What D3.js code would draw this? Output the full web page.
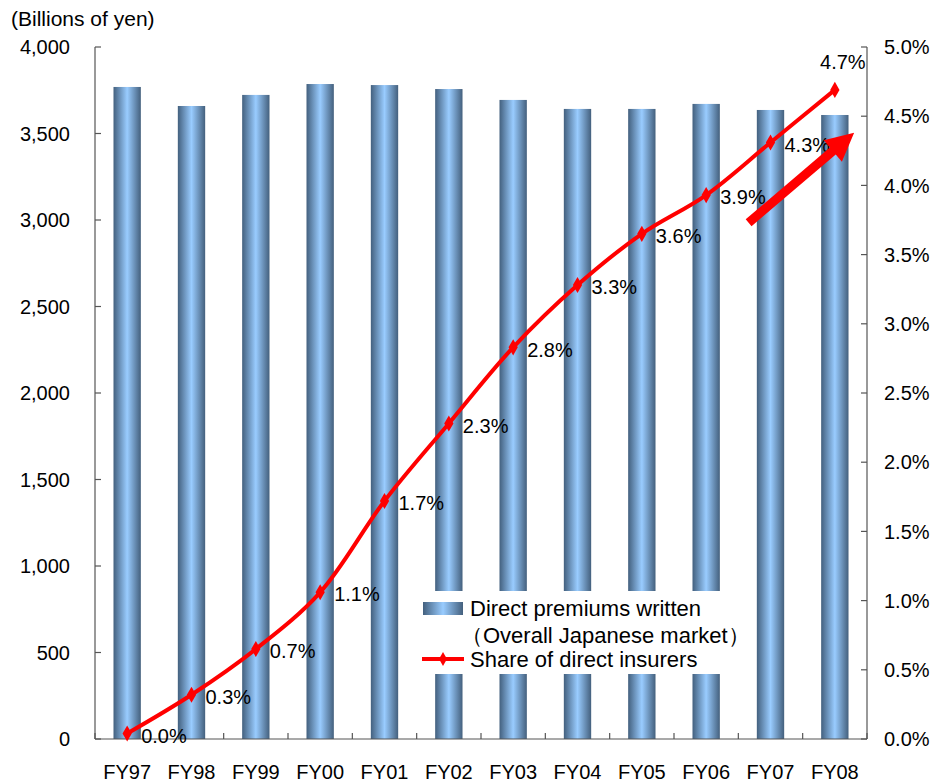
<!DOCTYPE html>
<html>
<head>
<meta charset="utf-8">
<script src="https://cdn.jsdelivr.net/npm/d3@7/dist/d3.min.js"></script>
<style>
  html, body { margin: 0; padding: 0; background: #fff; }
  svg { display: block; font-family: Arial, "Liberation Sans", sans-serif; }
</style>
</head>
<body>
<svg id="chart" width="933" height="783"></svg>
<script>
// Fiscal years on the category axis
const years = ["FY97","FY98","FY99","FY00","FY01","FY02","FY03","FY04","FY05","FY06","FY07","FY08"];
// Direct premiums written, overall Japanese market (billions of yen)
const premiums = [3769, 3659, 3723, 3786, 3780, 3757, 3694, 3642, 3642, 3671, 3636, 3607];
// Share of direct insurers (%)
const share = [0.04, 0.32, 0.65, 1.06, 1.72, 2.28, 2.83, 3.28, 3.65, 3.93, 4.31, 4.69];
// Axis ticks
const leftTicks = [0, 500, 1000, 1500, 2000, 2500, 3000, 3500, 4000];
const rightTicks = [0, 0.5, 1, 1.5, 2, 2.5, 3, 3.5, 4, 4.5, 5];
// Trend arrow in data units: [category index offset, share %]
const arrowFrom = [10 - 0.34, 3.73];
const arrowTo = [11 + 0.3, 4.38];

const svg = d3.select("#chart");
const margin = { left: 95, right: 66, top: 47, bottom: 44 };
const W = 933, H = 783;
const x0 = margin.left, x1 = W - margin.right;
const y0 = H - margin.bottom, y1 = margin.top;

const x = d3.scaleBand().domain(years).range([x0, x1]).paddingInner(0.575).paddingOuter(0.2875);
const yL = d3.scaleLinear().domain([0, 4000]).range([y0, y1]);
const yR = d3.scaleLinear().domain([0, 5]).range([y0, y1]);
const step = x.step();
const cx = i => x(years[i]) + x.bandwidth() / 2;

// Bar gradient: dark edges, light blue centre
const defs = svg.append("defs");
const grad = defs.append("linearGradient").attr("id", "barGrad").attr("x1", "0%").attr("x2", "100%").attr("y1", "0%").attr("y2", "0%");
grad.append("stop").attr("offset", "0%").attr("stop-color", "#43607e");
grad.append("stop").attr("offset", "50%").attr("stop-color", "#99ccff");
grad.append("stop").attr("offset", "100%").attr("stop-color", "#44607d");

// Bars
svg.append("g").selectAll("rect").data(premiums).join("rect")
  .attr("x", (d, i) => x(years[i]))
  .attr("y", d => yL(d))
  .attr("width", x.bandwidth())
  .attr("height", d => yL(0) - yL(d))
  .attr("fill", "url(#barGrad)");

const axisColor = "#555";
const fontSize = 20;

// Left axis
const left = svg.append("g");
left.append("line").attr("x1", x0).attr("x2", x0).attr("y1", yL(0)).attr("y2", yL(4000)).attr("stroke", axisColor).attr("stroke-width", 1.2);
left.selectAll("line.t").data(leftTicks).join("line").attr("class", "t")
  .attr("x1", x0).attr("x2", x0 + 6).attr("y1", d => yL(d)).attr("y2", d => yL(d))
  .attr("stroke", axisColor).attr("stroke-width", 1.2);
left.selectAll("text").data(leftTicks).join("text")
  .attr("x", 70).attr("y", d => yL(d)).attr("dy", "0.36em")
  .attr("text-anchor", "end").attr("font-size", fontSize).attr("fill", "#000")
  .text(d => d3.format(",")(d));

// Right axis
const right = svg.append("g");
right.append("line").attr("x1", x1).attr("x2", x1).attr("y1", yR(0)).attr("y2", yR(5)).attr("stroke", axisColor).attr("stroke-width", 1.2);
right.selectAll("line.t").data(rightTicks).join("line").attr("class", "t")
  .attr("x1", x1 - 6).attr("x2", x1).attr("y1", d => yR(d)).attr("y2", d => yR(d))
  .attr("stroke", axisColor).attr("stroke-width", 1.2);
right.selectAll("text").data(rightTicks).join("text")
  .attr("x", 884).attr("y", d => yR(d)).attr("dy", "0.36em")
  .attr("text-anchor", "start").attr("font-size", fontSize).attr("fill", "#000")
  .text(d => d.toFixed(1) + "%");

// Bottom axis
const bottom = svg.append("g");
bottom.append("line").attr("x1", x0).attr("x2", x1).attr("y1", y0).attr("y2", y0).attr("stroke", axisColor).attr("stroke-width", 1.2);
bottom.selectAll("line.t").data(d3.range(years.length + 1)).join("line").attr("class", "t")
  .attr("x1", i => x0 + i * step).attr("x2", i => x0 + i * step)
  .attr("y1", y0).attr("y2", y0 - 6)
  .attr("stroke", axisColor).attr("stroke-width", 1.2);
bottom.selectAll("text").data(years).join("text")
  .attr("x", (d, i) => cx(i)).attr("y", 779)
  .attr("text-anchor", "middle").attr("font-size", fontSize).attr("fill", "#000")
  .text(d => d);

// Unit label
svg.append("text").attr("x", 11).attr("y", 26).attr("font-size", 21).attr("fill", "#000").text("(Billions of yen)");

// Legend box (white background over bars)
const legendFont = 22;
const lg = svg.append("g");
lg.append("rect").attr("x", 414).attr("y", 591).attr("width", 322).attr("height", 83).attr("fill", "#fff");
lg.append("rect").attr("x", 423).attr("y", 602).attr("width", 40).attr("height", 13).attr("fill", "url(#barGrad)");
lg.append("text").attr("x", 470).attr("y", 616).attr("font-size", legendFont).text("Direct premiums written");
lg.append("text").attr("x", 461).attr("y", 643).attr("font-size", legendFont).text("（Overall Japanese market）");
lg.append("line").attr("x1", 422).attr("x2", 464).attr("y1", 659).attr("y2", 659).attr("stroke", "#ff0000").attr("stroke-width", 4);
lg.append("path").attr("d", d3.symbol(d3.symbolDiamond, 55)()).attr("transform", "translate(443,659)").attr("fill", "#ff0000");
lg.append("text").attr("x", 470).attr("y", 667).attr("font-size", legendFont).text("Share of direct insurers");

// Share line
const line = d3.line().x((d, i) => cx(i)).y(d => yR(d)).curve(d3.curveCatmullRom.alpha(0.5));
svg.append("path").datum(share).attr("d", line)
  .attr("fill", "none").attr("stroke", "#ff0000").attr("stroke-width", 4);
svg.append("g").selectAll("path").data(share).join("path")
  .attr("d", d3.symbol(d3.symbolDiamond, 75)())
  .attr("transform", (d, i) => `translate(${cx(i)},${yR(d)})`)
  .attr("fill", "#ff0000");

// Value labels
const last = share.length - 1;
svg.append("g").selectAll("text").data(share).join("text")
  .attr("x", (d, i) => i === last ? cx(i) + 8 : cx(i) + 14)
  .attr("y", (d, i) => i === last ? yR(d) - 28 : yR(d) + 2)
  .attr("dy", "0.36em")
  .attr("text-anchor", (d, i) => i === last ? "middle" : "start")
  .attr("font-size", fontSize).attr("fill", "#000")
  .text(d => d.toFixed(1) + "%");

// Trend arrow
const ax = v => x0 + (v + 0.5) * step;
const sx = ax(arrowFrom[0]), sy = yR(arrowFrom[1]);
const ex = ax(arrowTo[0]), ey = yR(arrowTo[1]);
const ang = Math.atan2(ey - sy, ex - sx);
const headLen = 28, headHalf = 14, shaftHalf = 4.5;
const len = Math.hypot(ex - sx, ey - sy);
const pts = [
  [0, -shaftHalf], [len - headLen, -shaftHalf], [len - headLen, -headHalf],
  [len, 0], [len - headLen, headHalf], [len - headLen, shaftHalf], [0, shaftHalf]
].map(([u, v]) => [sx + u * Math.cos(ang) - v * Math.sin(ang), sy + u * Math.sin(ang) + v * Math.cos(ang)]);
svg.append("polygon").attr("points", pts.map(p => p.join(",")).join(" ")).attr("fill", "#ff0000");
</script>
</body>
</html>
